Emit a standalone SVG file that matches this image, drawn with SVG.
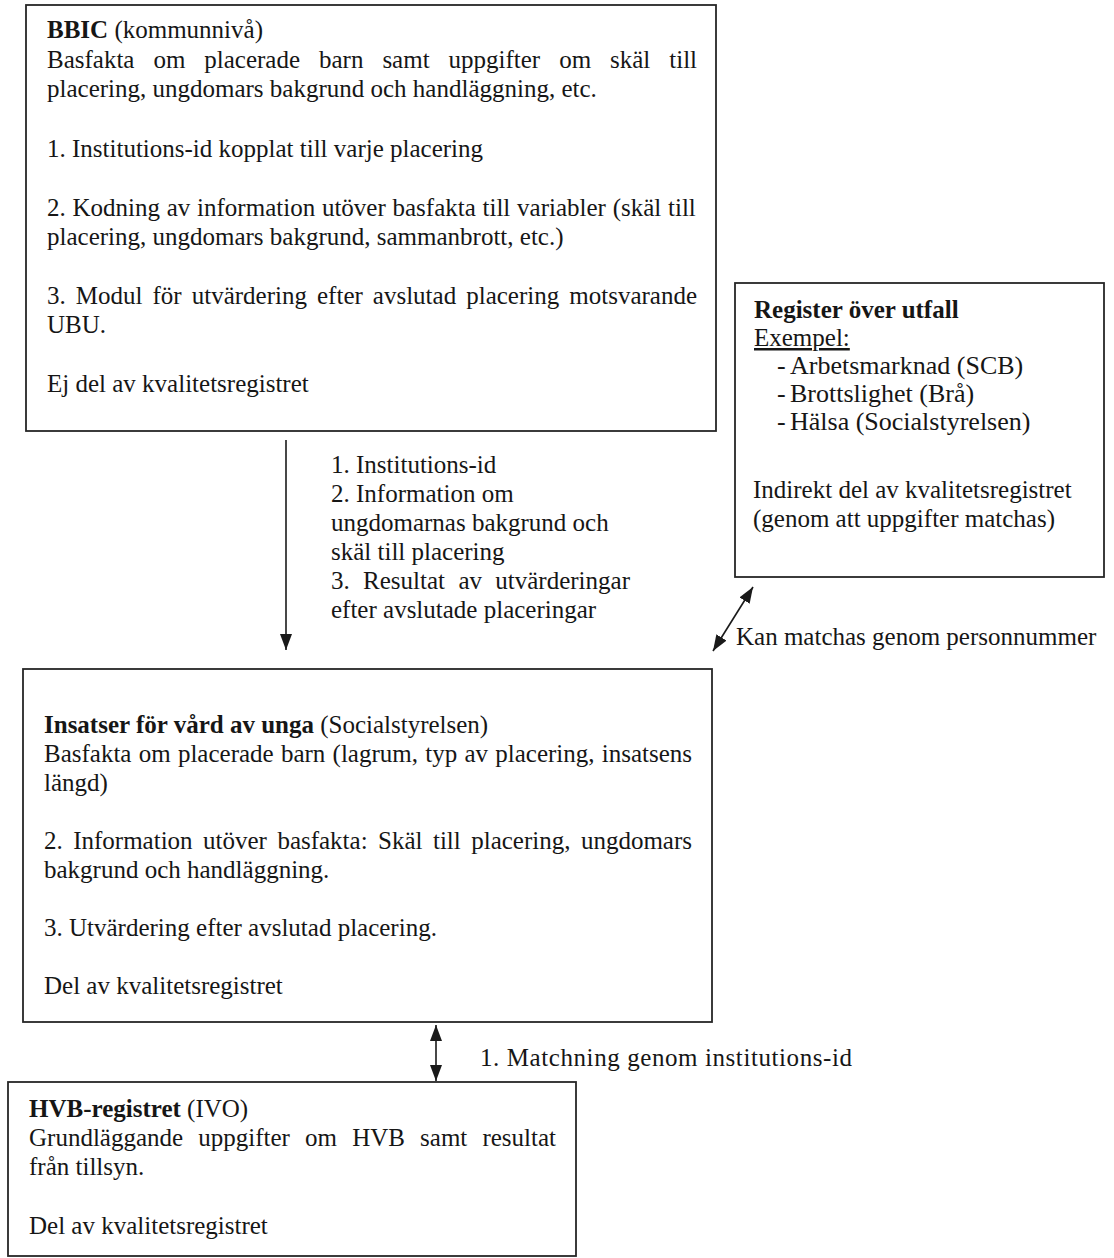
<svg xmlns="http://www.w3.org/2000/svg" width="1114" height="1258" viewBox="0 0 1114 1258">
<style>
.box{fill:#fff;stroke:#262626;stroke-width:1.8}
.t{font-family:"Liberation Serif","Times New Roman",serif;font-size:25px;fill:#161616}
.b{font-weight:bold}
.u{text-decoration:underline}
.big{font-size:26px}
.ln{stroke:#1a1a1a;stroke-width:1.6;fill:none}
</style>
<defs>
<marker id="ah" viewBox="0 0 16 12" refX="16" refY="6" markerWidth="16" markerHeight="12" markerUnits="userSpaceOnUse" orient="auto-start-reverse">
<path d="M0,0 L16,6 L0,12 Z" fill="#1a1a1a"/>
</marker>
</defs>
<rect width="1114" height="1258" fill="#fff"/>

<g id="node-bbic">
<rect class="box" x="26" y="5" width="690" height="426"/>
<text class="t" x="47" y="38"><tspan class="b">BBIC</tspan> (kommunnivå)</text>
<text class="t" x="47" y="68" word-spacing="12.7">Basfakta om placerade barn samt uppgifter om skäl till</text>
<text class="t" x="47" y="97">placering, ungdomars bakgrund och handläggning, etc.</text>
<text class="t" x="47" y="157">1. Institutions-id kopplat till varje placering</text>
<text class="t" x="47" y="216" word-spacing="0.5">2. Kodning av information utöver basfakta till variabler (skäl till</text>
<text class="t" x="47" y="245">placering, ungdomars bakgrund, sammanbrott, etc.)</text>
<text class="t" x="47" y="304" word-spacing="3.8">3. Modul för utvärdering efter avslutad placering motsvarande</text>
<text class="t" x="47" y="333">UBU.</text>
<text class="t" x="47" y="392">Ej del av kvalitetsregistret</text>
</g>

<g id="node-register">
<rect class="box" x="735" y="283" width="369" height="294"/>
<text class="t b" x="754" y="318">Register över utfall</text>
<text class="t u" x="754" y="346">Exempel:</text>
<text class="t big" y="374"><tspan x="777">-</tspan><tspan x="790">Arbetsmarknad (SCB)</tspan></text>
<text class="t big" y="402"><tspan x="777">-</tspan><tspan x="790">Brottslighet (Brå)</tspan></text>
<text class="t big" y="430"><tspan x="777">-</tspan><tspan x="790">Hälsa (Socialstyrelsen)</tspan></text>
<text class="t" x="753" y="498">Indirekt del av kvalitetsregistret</text>
<text class="t" x="753" y="527">(genom att uppgifter matchas)</text>
</g>

<g id="node-insatser">
<rect class="box" x="23" y="669" width="689" height="353"/>
<text class="t" x="44" y="733"><tspan class="b">Insatser för vård av unga</tspan> (Socialstyrelsen)</text>
<text class="t" x="44" y="762" word-spacing="1.0">Basfakta om placerade barn (lagrum, typ av placering, insatsens</text>
<text class="t" x="44" y="791">längd)</text>
<text class="t" x="44" y="849" word-spacing="4.2">2. Information utöver basfakta: Skäl till placering, ungdomars</text>
<text class="t" x="44" y="878">bakgrund och handläggning.</text>
<text class="t" x="44" y="936">3. Utvärdering efter avslutad placering.</text>
<text class="t" x="44" y="994">Del av kvalitetsregistret</text>
</g>

<g id="node-hvb">
<rect class="box" x="8" y="1082" width="568" height="174"/>
<text class="t" x="29" y="1117"><tspan class="b">HVB-registret</tspan> (IVO)</text>
<text class="t" x="29" y="1146" word-spacing="8.9">Grundläggande uppgifter om HVB samt resultat</text>
<text class="t" x="29" y="1175">från tillsyn.</text>
<text class="t" x="29" y="1234">Del av kvalitetsregistret</text>
</g>

<g id="connectors">
<line class="ln" x1="286" y1="440" x2="286" y2="650" marker-end="url(#ah)"/>
<text class="t" x="331" y="473">1. Institutions-id</text>
<text class="t" x="331" y="502">2. Information om</text>
<text class="t" x="331" y="531">ungdomarnas bakgrund och</text>
<text class="t" x="331" y="560">skäl till placering</text>
<text class="t" x="331" y="589" word-spacing="7.1">3. Resultat av utvärderingar</text>
<text class="t" x="331" y="618">efter avslutade placeringar</text>

<line class="ln" x1="753" y1="587" x2="713" y2="651" marker-start="url(#ah)" marker-end="url(#ah)"/>
<text class="t" x="736" y="645">Kan matchas genom personnummer</text>

<line class="ln" x1="436" y1="1025" x2="436" y2="1081" marker-start="url(#ah)" marker-end="url(#ah)"/>
<text class="t" x="480" y="1066" textLength="372" lengthAdjust="spacing">1. Matchning genom institutions-id</text>
</g>
</svg>
